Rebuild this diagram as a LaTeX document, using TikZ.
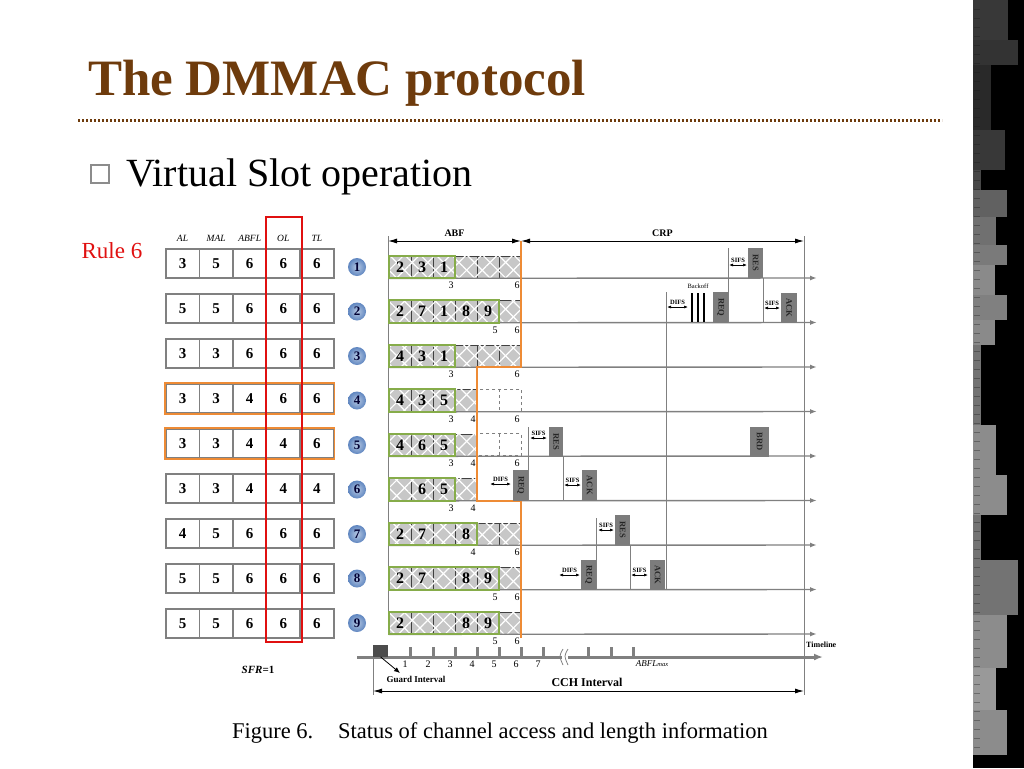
\documentclass[tikz,border=0pt]{standalone}
\usepackage{fontspec}
\setmainfont{Liberation Serif}
\usepackage{tikz}
\usetikzlibrary{arrows.meta,patterns.meta,calc}

\definecolor{titlebrown}{HTML}{6E3B0C}
\definecolor{linegray}{HTML}{808080}
\definecolor{slotgreen}{HTML}{86AC4A}
\definecolor{abforange}{HTML}{EE8B35}
\definecolor{ballblue}{HTML}{5F86C0}
\definecolor{msggray}{HTML}{7C7C7C}
\definecolor{rulered}{HTML}{E01010}

\newcommand{\fsz}[1]{\fontsize{#1}{#1}\selectfont}

\begin{document}
\begin{tikzpicture}[x=1pt,y=-1pt]
\tikzset{
	tcell/.style = {draw=linegray, line width=1.6, minimum width=33.6, minimum height=29, inner sep=0, font=\fsz{15}\bfseries},
	thead/.style = {inner sep=0, font=\fsz{9.5}\itshape},
	slot/.style = {draw=black!75, line width=0.7, fill=black!22, minimum size=22, inner sep=0,
		postaction={pattern={Lines[angle=45,distance=11pt,line width=1.2pt]}, pattern color=white},
		postaction={pattern={Lines[angle=-45,distance=11pt,line width=1.2pt]}, pattern color=white}},
	slotnum/.style = {inner sep=0, font=\fsz{16}\bfseries},
	idx/.style = {inner sep=0, font=\fsz{10}},
	ball/.style = {circle, inner color=ballblue!45, outer color=ballblue, minimum size=18, inner sep=0, font=\fsz{13}\bfseries, text=black!80!blue},
	rowline/.style = {draw=linegray, line width=1.4, -{Latex[length=7pt,width=5pt]}},
	frame/.style = {draw=linegray, line width=1},
	msg/.style = {fill=msggray, inner sep=0, anchor=south west, text=black!85, font=\fsz{8.5}\bfseries},
	gap/.style = {{Latex[length=4pt,width=3pt]}-{Latex[length=4pt,width=3pt]}, line width=0.7},
	gaplabel/.style = {inner sep=0, font=\fsz{6.5}\bfseries},
	span/.style = {{Latex[length=9pt,width=5pt]}-{Latex[length=9pt,width=5pt]}, line width=1}
}
\useasboundingbox (0,0) rectangle (1024,768);

% title and bullet
\node[anchor=base west, inner sep=0, text=titlebrown, font=\fsz{51}\bfseries] (title) at (88,95) {The DMMAC protocol};
\draw[titlebrown, line width=3, dash pattern=on 2.2pt off 1.8pt] (78,120) -- (942,120);
\node[draw=black!45, line width=1.5, minimum size=18, inner sep=0] (bullet) at (100,174) {};
\node[anchor=base west, inner sep=0, font=\fsz{40}] (sub) at (126,186) {Virtual Slot operation};

% length table
\foreach \h [count=\c] in {AL,MAL,ABFL,OL,TL}
	\node[thead] (h-\c) at ({148.9+33.6*\c},238) {\h};
\foreach \r/\al/\mal/\abfl/\ol/\tl in {1/3/5/6/6/6,2/5/5/6/6/6,3/3/3/6/6/6,4/3/3/4/6/6,5/3/3/4/4/6,6/3/3/4/4/4,7/4/5/6/6/6,8/5/5/6/6/6,9/5/5/6/6/6}{
	\foreach \v [count=\c] in {\al,\mal,\abfl,\ol,\tl}
		\node[tcell] (t-\r-\c) at ({148.9+33.6*\c},{218.5+45*\r}) {\v};
	\node[ball] (b-\r) at (357,{222.5+44.5*\r}) {\r};
}
\foreach \r in {4,5}
	\draw[abforange, line width=1.6] (t-\r-1.north west) rectangle (t-\r-5.south east);
\draw[rulered, line width=2] (266,217) rectangle (302,642);
\node[text=rulered, font=\fsz{23}] (rule) at (112,251) {Rule 6};
\node[font=\fsz{11}\bfseries] (sfr) at (258,670) {\itshape SFR\upshape=1};

% ABF slots
\foreach \r/\n in {1/6,2/6,3/6,4/4,5/4,6/4,7/6,8/6,9/6}
	\foreach \c in {1,...,\n}
		\node[slot] (s-\r-\c) at ({378+22*\c},{222.5+44.5*\r}) {};
\foreach \r in {4,5}{
	\draw[linegray, dashed, line width=0.8] (s-\r-4.north east) rectangle ++(44,22);
	\draw[linegray, dashed, line width=0.8] ($(s-\r-4.north east)+(22,0)$) -- ++(0,22);
}
\foreach \r/\c/\v in {1/1/2,1/2/3,1/3/1,2/1/2,2/2/7,2/3/1,2/4/8,2/5/9,3/1/4,3/2/3,3/3/1,4/1/4,4/2/3,4/3/5,5/1/4,5/2/6,5/3/5,6/2/6,6/3/5,7/1/2,7/2/7,7/4/8,8/1/2,8/2/7,8/4/8,8/5/9,9/1/2,9/4/8,9/5/9}
	\node[slotnum] at (s-\r-\c) {\v};
\foreach \r in {1,...,9}{
	\coordinate (e-\r) at (817,{233.5+44.5*\r});
	\draw[rowline] (s-\r-1.south west) -- (e-\r);
}
\foreach \r/\c/\v in {1/3/3,1/6/6,2/5/5,2/6/6,3/3/3,3/6/6,4/3/3,4/4/4,4/6/6,5/3/3,5/4/4,5/6/6,6/3/3,6/4/4,7/4/4,7/6/6,8/5/5,8/6/6,9/5/5,9/6/6}
	\node[idx] at ({385+22*\c},{241+44.5*\r}) {\v};

% ABF and CRP spans
\coordinate (abfL) at (388,241);
\coordinate (abfR) at (521,241);
\coordinate (crpR) at (804,241);
\draw[span] (abfL) -- node[above=1pt, font=\fsz{10}\bfseries] {ABF} (abfR);
\draw[span] (abfR) -- node[above=1pt, font=\fsz{10}\bfseries] {CRP} (crpR);
\draw[frame] (388,236) -- (388,634);
\draw[frame] (804,236) -- (804,695);
\foreach \r/\k in {1/3,2/5,3/3,4/3,5/3,6/3,7/4,8/5,9/5}
	\draw[slotgreen, line width=1.8] (s-\r-1.north west) rectangle (s-\r-\k.south east);
\draw[abforange, line width=1.6] (521,241) -- (521,367) -- (477,367) -- (477,501) -- (521,501) -- (521,638);

% contention: nodes 1 and 2
\draw[frame] (728,248) -- (728,323);
\draw[gap] (729,265) -- node[gaplabel, above=2pt] {SIFS} (747,265);
\node[msg, minimum width=15, minimum height=30] (res1) at (748,278) {\rotatebox{-90}{RES}};
\draw[frame] (666,292) -- (666,590);
\draw[gap] (667,307) -- node[gaplabel, above=2pt] {DIFS} (688,307);
\node[inner sep=0, font=\fsz{6.5}] (boff) at (698,286) {Backoff};
\foreach \x in {692,698,704}
	\draw[line width=1.5] (\x,293) -- (\x,322);
\node[msg, minimum width=15, minimum height=31] (req2) at (713,323) {\rotatebox{-90}{REQ}};
\draw[frame] (res1.south east) -- (res1.south east |- e-2);
\draw[gap] (764,308) -- node[gaplabel, above=2pt] {SIFS} (780,308);
\node[msg, minimum width=16, minimum height=30] (ack2) at (781,323) {\rotatebox{-90}{ACK}};

% contention: nodes 5 and 6
\draw[frame] (528,427) -- (528,501);
\draw[gap] (530,438) -- node[gaplabel, above=2pt] {SIFS} (547,438);
\node[msg, minimum width=14, minimum height=30] (res5) at (549,457) {\rotatebox{-90}{RES}};
\node[msg, minimum width=19, minimum height=30] (brd5) at (750,457) {\rotatebox{-90}{BRD}};
\draw[gap] (490,484) -- node[gaplabel, above=2pt] {DIFS} (511,484);
\node[msg, minimum width=15, minimum height=31] (req6) at (513,501) {\rotatebox{-90}{REQ}};
\draw[frame] (res5.south east) -- (res5.south east |- e-6);
\draw[gap] (564,485) -- node[gaplabel, above=2pt] {SIFS} (581,485);
\node[msg, minimum width=15, minimum height=31] (ack6) at (582,501) {\rotatebox{-90}{ACK}};

% contention: nodes 7 and 8
\draw[frame] (596,518) -- (596,590);
\draw[gap] (598,530) -- node[gaplabel, above=2pt] {SIFS} (614,530);
\node[msg, minimum width=15, minimum height=30] (res7) at (615,545) {\rotatebox{-90}{RES}};
\draw[gap] (559,575) -- node[gaplabel, above=2pt] {DIFS} (580,575);
\node[msg, minimum width=15, minimum height=30] (req8) at (581,590) {\rotatebox{-90}{REQ}};
\draw[frame] (res7.south east) -- (res7.south east |- e-8);
\draw[gap] (631,575) -- node[gaplabel, above=2pt] {SIFS} (648,575);
\node[msg, minimum width=15, minimum height=30] (ack8) at (650,590) {\rotatebox{-90}{ACK}};

% timeline
\coordinate (tl0) at (357,657);
\coordinate (tl1) at (823,657);
\draw[linegray, line width=3, -{Latex[length=9pt,width=7pt]}] (tl0) -- (tl1);
\node[anchor=west, inner sep=0, font=\fsz{8}\bfseries] (tlab) at (806,645) {Timeline};
\foreach \x in {410,433,455,477,499,521,543,588,611,633}
	\fill[linegray] (\x-1.5,647) rectangle (\x+1.5,657);
\foreach \x/\v in {410/1,433/2,455/3,477/4,499/5,521/6,543/7}
	\node[idx] at (\x-5,664) {\v};
\node[inner sep=0, font=\fsz{9}\itshape] (abfmax) at (652,664) {ABFL\fsz{6.5}max};
\fill[white] (562,652) rectangle (568,662);
\draw[linegray, line width=0.8] (563,649) .. controls (559,656) .. (563,665);
\draw[linegray, line width=0.8] (568,649) .. controls (564,656) .. (568,665);
\node[fill=black!70, minimum width=15, minimum height=12, inner sep=0, anchor=south west] (guard) at (373,657) {};
\node[inner sep=0, font=\fsz{9}\bfseries] (glab) at (416,679) {Guard Interval};
\draw[-{Latex[length=6pt,width=5pt]}, line width=0.8] (guard.south) -- (400,673);
\draw[frame] (373,657) -- (373,695);
\draw[span] (373,691) -- (804,691);
\node[inner sep=0, font=\fsz{12}\bfseries] (cch) at (587,682) {CCH Interval};

% caption
\node[inner sep=0, font=\fsz{22.5}] (cap) at (500,733) {Figure 6.\hspace{1.1em}Status of channel access and length information};

% right side strip
\fill[black] (973,0) rectangle (1024,768);
\foreach \ya/\yb/\xr/\g in {0/40/1008/78,40/65/1018/80,65/130/991/84,130/170/1005/78,170/190/981/72,190/217/1007/62,217/245/996/56,245/265/1007/52,265/295/995/46,295/320/1007/50,320/345/995/46,345/425/981/55,425/475/996/45,475/515/1007/45,515/560/981/55,560/615/1018/55,615/668/1007/45,668/710/996/40,710/755/1007/45}
	\fill[black!\g] (973,\ya) rectangle (\xr,\yb);
\foreach \y in {9,18,...,747}
	\draw[black!90, line width=0.7, opacity=0.35] (974,\y) -- (980,\y);
\end{tikzpicture}
\end{document}
